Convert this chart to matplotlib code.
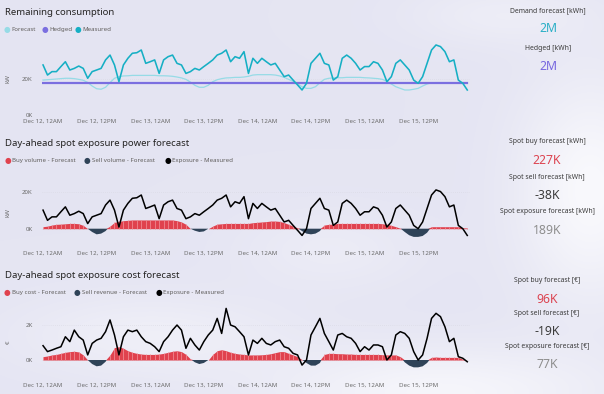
import matplotlib.pyplot as plt
import numpy as np

plt.rcParams['font.family'] = ['Noto Sans', 'DejaVu Sans']

# hourly values, Dec 12 00:00 -> Dec 15 23:00 (index = hour)
hours = list(range(96))
tick_pos = [0, 12, 24, 36, 48, 60, 72, 84]
tick_labels = ['Dec 12, 12AM', 'Dec 12, 12PM', 'Dec 13, 12AM', 'Dec 13, 12PM',
               'Dec 14, 12AM', 'Dec 14, 12PM', 'Dec 15, 12AM', 'Dec 15, 12PM']

# Remaining consumption [kW]
measured_kw = [27.8, 22.2, 24.1, 24.1, 26.9, 29.6, 25.0, 25.9, 27.2, 25.9, 20.4, 24.1,
               25.0, 25.9, 30.6, 33.3, 27.8, 18.5, 27.8, 31.5, 34.3, 34.6, 36.1, 28.7,
               29.6, 30.6, 23.1, 30.6, 32.4, 33.3, 28.7, 27.8, 23.1, 24.1, 25.9, 25.0,
               26.9, 28.7, 30.6, 33.3, 34.3, 36.1, 29.6, 32.4, 31.5, 35.2, 23.1, 31.5,
               28.7, 31.5, 29.6, 27.8, 28.7, 25.0, 21.3, 22.2, 19.4, 16.7, 13.9, 17.6,
               28.7, 31.5, 34.3, 28.7, 27.8, 19.4, 21.3, 31.5, 33.3, 31.5, 28.7, 25.0,
               26.9, 26.9, 29.6, 28.7, 25.0, 18.5, 21.3, 28.7, 30.6, 27.8, 25.0, 19.4,
               17.6, 21.3, 28.7, 36.1, 38.9, 38.0, 35.2, 29.6, 30.6, 19.4, 17.6, 13.9]
forecast_kw = [19.4, 19.6, 19.8, 20.0, 20.2, 20.4, 20.4, 20.2, 19.8, 19.3, 18.1, 16.1,
               14.6, 14.3, 15.4, 18.0, 20.4, 21.3, 21.7, 21.8, 22.0, 22.0, 22.0, 22.0,
               22.0, 22.0, 21.8, 21.8, 21.7, 21.5, 21.1, 20.6, 19.8, 18.3, 16.5, 15.4,
               15.4, 16.5, 18.5, 19.6, 20.2, 20.6, 20.7, 20.9, 20.9, 21.1, 21.5, 22.2,
               22.4, 22.4, 22.4, 22.4, 22.2, 21.7, 20.9, 19.8, 18.7, 17.2, 15.7, 14.8,
               14.8, 15.7, 17.9, 19.8, 20.4, 20.6, 20.7, 20.7, 20.9, 20.9, 20.9, 20.9,
               20.7, 20.6, 20.4, 20.2, 19.8, 18.7, 17.2, 15.7, 14.8, 13.9, 13.9, 14.3,
               14.8, 16.1, 17.2, 17.9, 18.0, 18.0, 18.0, 18.0, 18.0, 18.0, 17.9, 17.8]
hedged_kw = [17.6] * 96

# Day-ahead spot exposure power [kW]
spot_volume_forecast = [1.1, 1.4, 2.0, 2.4, 2.5, 2.7, 2.9, 2.9, 2.7, 1.8, 0.0, -1.8,
                        -3.1, -2.7, -1.3, 1.4, 3.5, 4.0, 4.4, 4.6, 4.8, 4.8, 4.8, 4.8,
                        4.8, 4.8, 4.8, 4.8, 4.8, 4.8, 4.4, 3.7, 2.4, 0.0, -1.1, -1.8,
                        -1.5, 0.0, 1.4, 2.5, 2.7, 2.9, 2.9, 2.9, 2.9, 2.9, 2.9, 3.3,
                        3.5, 3.7, 3.9, 4.2, 4.2, 4.0, 3.3, 2.4, 1.4, 0.4, -1.3, -2.7,
                        -3.1, -2.7, -1.3, 2.0, 2.4, 2.5, 2.9, 2.9, 2.9, 2.9, 2.9, 2.9,
                        2.9, 2.9, 2.9, 2.9, 2.7, 2.4, 1.8, 1.1, 0.2, -1.8, -3.6, -4.5,
                        -4.5, -4.0, -2.2, 1.1, 1.1, 1.1, 1.1, 1.1, 1.1, 1.1, 0.5, 0.4]
exposure_kw = [10.2, 4.6, 6.5, 6.5, 9.3, 12.0, 7.4, 8.3, 9.6, 8.3, 2.8, 6.5,
               7.4, 8.3, 13.0, 15.7, 10.2, 0.9, 10.2, 13.9, 16.7, 17.0, 18.5, 11.1,
               12.0, 13.0, 5.5, 13.0, 14.8, 15.7, 11.1, 10.2, 5.5, 6.5, 8.3, 7.4,
               9.3, 11.1, 13.0, 15.7, 16.7, 18.5, 12.0, 14.8, 13.9, 17.6, 5.5, 13.9,
               11.1, 13.9, 12.0, 10.2, 11.1, 7.4, 3.7, 4.6, 1.8, -0.9, -3.7, 0.0,
               11.1, 13.9, 16.7, 11.1, 10.2, 1.8, 3.7, 13.9, 15.7, 13.9, 11.1, 7.4,
               9.3, 9.3, 12.0, 11.1, 7.4, 0.9, 3.7, 11.1, 13.0, 10.2, 7.4, 1.8,
               0.0, 3.7, 11.1, 18.5, 21.3, 20.4, 17.6, 12.0, 13.0, 1.8, 0.0, -3.7]

# Day-ahead spot exposure cost [k€]
spot_cost_forecast = [0.19, 0.23, 0.29, 0.32, 0.38, 0.44, 0.48, 0.50, 0.46, 0.29, 0.0, -0.23,
                      -0.36, -0.32, -0.10, 0.29, 0.71, 0.76, 0.67, 0.53, 0.44, 0.38, 0.34, 0.32,
                      0.32, 0.32, 0.34, 0.38, 0.44, 0.50, 0.53, 0.48, 0.32, 0.06, -0.13, -0.23,
                      -0.17, 0.0, 0.32, 0.53, 0.59, 0.53, 0.44, 0.38, 0.34, 0.32, 0.29, 0.29,
                      0.29, 0.30, 0.32, 0.36, 0.42, 0.48, 0.48, 0.38, 0.29, 0.19, 0.02, -0.17,
                      -0.32, -0.32, -0.17, 0.32, 0.38, 0.38, 0.36, 0.36, 0.34, 0.34, 0.32, 0.32,
                      0.32, 0.32, 0.32, 0.32, 0.30, 0.29, 0.29, 0.29, 0.19, -0.13, -0.32, -0.42,
                      -0.42, -0.36, -0.17, 0.15, 0.17, 0.15, 0.15, 0.15, 0.15, 0.15, 0.04, 0.0]
exposure_cost = [0.82, 0.48, 0.57, 0.67, 0.76, 1.33, 1.05, 1.71, 1.33, 1.14, 0.29, 0.95,
                 1.14, 1.24, 1.62, 2.29, 1.43, 0.29, 1.33, 1.71, 1.62, 1.71, 1.33, 1.05,
                 0.95, 0.76, 0.48, 1.05, 1.33, 1.71, 2.00, 1.71, 0.67, 1.24, 0.86, 0.57,
                 1.05, 1.43, 1.71, 2.38, 1.52, 2.95, 2.00, 1.90, 1.62, 1.33, 0.29, 1.14,
                 0.95, 1.24, 0.95, 0.86, 1.05, 1.14, 0.76, 0.67, 0.38, 0.29, -0.29, 0.0,
                 1.43, 1.90, 2.38, 1.52, 1.05, 0.57, 1.43, 1.52, 1.33, 1.24, 0.95, 0.48,
                 0.76, 0.57, 0.86, 0.86, 0.76, 0.0, 0.29, 1.43, 1.62, 1.52, 1.24, 0.48,
                 0.0, 0.29, 1.24, 2.38, 2.67, 2.48, 1.90, 1.05, 1.24, 0.19, 0.10, -0.10]

# KPI cards: (label, value, colour key)
kpi_top = [('Demand forecast [kWh]', '2M', 'cyan'), ('Hedged [kWh]', '2M', 'purple')]
kpi_mid = [('Spot buy forecast [kWh]', '227K', 'red'), ('Spot sell forecast [kWh]', '-38K', 'dark'),
           ('Spot exposure forecast [kWh]', '189K', 'gray')]
kpi_bot = [('Spot buy forecast [€]', '96K', 'red'), ('Spot sell forecast [€]', '-19K', 'dark'),
           ('Spot exposure forecast [€]', '77K', 'gray')]

C_MEAS = '#16afc4'
C_FC = '#96dbe6'
C_HEDGE = '#7b6fe0'
C_RED = '#e0424e'
C_STRIPE = '#f08c94'
C_NAVY = '#2f4358'
kpi_colors = {'cyan': '#2aafc6', 'purple': '#7767df', 'red': '#dc4451',
              'dark': '#3c3c3c', 'gray': '#8e8e8e'}

W, H = 604, 394
fig = plt.figure(figsize=(W / 100, H / 100), dpi=100)

# soft cloudy background
bg = fig.add_axes([0, 0, 1, 1])
yy, xx = np.mgrid[0:H, 0:W]
glow = np.zeros((H, W))
for cx, cy, sx, sy, a in [(590, 190, 70, 110, 0.9), (440, 392, 170, 45, 0.75),
                          (150, 335, 130, 40, 0.45), (500, 15, 90, 30, 0.35),
                          (330, 250, 90, 40, 0.3)]:
    glow += a * np.exp(-((xx - cx) ** 2 / sx ** 2 + (yy - cy) ** 2 / sy ** 2))
glow = np.clip(glow, 0, 1)[..., None]
base = np.array([0.898, 0.898, 0.952])
img = base * (1 - glow) + np.array([0.985, 0.985, 0.995]) * glow
bg.imshow(img, aspect='auto', extent=[0, W, H, 0])
bg.set_xlim(0, W)
bg.set_ylim(H, 0)
bg.axis('off')


def px_axes(x0, x1, ytop, ybot):
    return fig.add_axes([x0 / W, 1 - ybot / H, (x1 - x0) / W, (ybot - ytop) / H])


def style(ax, yticks, ylabels, pad_x):
    ax.set_facecolor('none')
    for s in ax.spines.values():
        s.set_visible(False)
    ax.set_xlim(-0.3, 95.5)
    ax.set_xticks(tick_pos)
    ax.set_xticklabels(tick_labels)
    ax.set_yticks(yticks)
    ax.set_yticklabels(ylabels)
    ax.tick_params(length=0, labelsize=4.4, colors='#6b6b6b')
    ax.tick_params(axis='x', pad=pad_x)
    ax.tick_params(axis='y', pad=6.5)
    ax.grid(axis='y', color='#d8d8e2', lw=0.5, ls=(0, (1, 2)))
    ax.set_axisbelow(True)


def legend_row(y, items):
    for xc, xt, color, label in items:
        fig.text(xc / W, 1 - y / H, '●', color=color, fontsize=5.5, ha='center', va='center',
                 family='DejaVu Sans')
        fig.text(xt / W, 1 - y / H, label, color='#605e5c', fontsize=4.4, ha='left', va='center')


def kpi_column(x, rows, ys):
    for (label, val, ck), (yl, yv) in zip(rows, ys):
        fig.text(x / W, 1 - yl / H, label, color='#3a3a3a', fontsize=4.9, ha='center', va='center')
        fig.text(x / W, 1 - yv / H, val, color=kpi_colors[ck], fontsize=8.8, ha='center', va='center')


def buy_sell(ax, values):
    v = np.array(values)
    pos = np.where(v > 0, v, 0)
    ax.fill_between(hours, pos, 0, color=C_RED, lw=0)
    ax.vlines(hours, 0, pos, color=C_STRIPE, lw=0.7, alpha=0.8)
    ax.fill_between(hours, v, 0, where=v <= 0, interpolate=True, color=C_NAVY, lw=0)


# --- chart 1 ---
ax1 = px_axes(41.7, 469.5, 43, 115)
ax1.plot(hours, forecast_kw, color=C_FC, lw=0.9)
ax1.plot(hours, hedged_kw, color=C_HEDGE, lw=1.6)
ax1.plot(hours, measured_kw, color=C_MEAS, lw=1.15)
ax1.set_ylim(0, 40)
style(ax1, [0, 20], ['0K', '20K'], 2.5)
fig.text(5 / W, 1 - 12.5 / H, 'Remaining consumption', fontsize=6.9, color='#252423', va='center')
legend_row(29.7, [(7.3, 11.5, C_FC, 'Forecast'), (45, 49, C_HEDGE, 'Hedged'),
                  (78.3, 82.5, C_MEAS, 'Measured')])
fig.text(8 / W, 1 - 79 / H, 'kW', rotation=90, fontsize=4.4, color='#6b6b6b', ha='center', va='center')

# --- chart 2 ---
ax2 = px_axes(41.7, 469.5, 185, 237.8)
buy_sell(ax2, spot_volume_forecast)
ax2.plot(hours, exposure_kw, color='black', lw=1.1)
ax2.set_ylim(-5, 24)
style(ax2, [0, 20], ['0K', '20K'], 9.5)
fig.text(5 / W, 1 - 144 / H, 'Day-ahead spot exposure power forecast', fontsize=6.9, color='#252423', va='center')
legend_row(160.7, [(8.3, 11.7, C_RED, 'Buy volume - Forecast'), (86.7, 91.7, C_NAVY, 'Sell volume - Forecast'),
                   (168.3, 171.7, 'black', 'Exposure - Measured')])
fig.text(8 / W, 1 - 213 / H, 'kW', rotation=90, fontsize=4.4, color='#6b6b6b', ha='center', va='center')

# --- chart 3 ---
ax3 = px_axes(41.7, 469.5, 305.8, 370.5)
buy_sell(ax3, spot_cost_forecast)
ax3.plot(hours, exposure_cost, color='black', lw=1.1)
ax3.set_ylim(-0.6, 3.1)
style(ax3, [0, 2], ['0K', '2K'], 9)
fig.text(5 / W, 1 - 275 / H, 'Day-ahead spot exposure cost forecast', fontsize=6.9, color='#252423', va='center')
legend_row(292.3, [(7.3, 11.7, C_RED, 'Buy cost - Forecast'), (77.3, 81.7, C_NAVY, 'Sell revenue - Forecast'),
                   (159.3, 163.3, 'black', 'Exposure - Measured')])
fig.text(8 / W, 1 - 342 / H, '€', rotation=90, fontsize=4.4, color='#6b6b6b', ha='center', va='center')

# --- KPI cards ---
kpi_column(548, kpi_top, [(10.5, 29), (48.3, 67)])
kpi_column(547, kpi_mid, [(141.7, 160.7), (177.3, 195.3), (211.3, 230)])
kpi_column(547, kpi_bot, [(280.7, 299.3), (313.3, 331.7), (346.7, 365)])

fig.savefig('out.png', dpi=100)
